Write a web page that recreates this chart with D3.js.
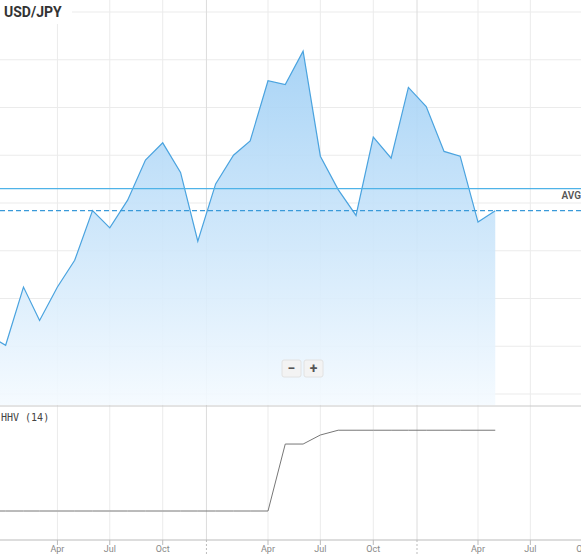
<!DOCTYPE html>
<html><head><meta charset="utf-8">
<script src="https://cdn.jsdelivr.net/npm/d3@7"></script>
<style>body{margin:0;background:#fff;overflow:hidden}</style>
</head><body>
<script>
// monthly USD/JPY closes, Dec 2022 .. May 2025
const months = ["2022-12","2023-01","2023-02","2023-03","2023-04","2023-05","2023-06","2023-07","2023-08","2023-09","2023-10","2023-11","2023-12",
  "2024-01","2024-02","2024-03","2024-04","2024-05","2024-06","2024-07","2024-08","2024-09","2024-10","2024-11","2024-12",
  "2025-01","2025-02","2025-03","2025-04","2025-05"];
const closes = [131.2,130.1,136.2,132.7,136.2,139.0,144.2,142.4,145.3,149.5,151.3,148.2,141.0,
  147.0,150.0,151.5,157.8,157.4,160.9,149.9,146.4,143.7,151.9,149.7,157.1,
  155.1,150.4,149.9,143.0,144.2];
const hhv = [151.5,151.5,151.5,151.5,151.5,151.5,151.5,151.5,151.5,151.5,151.5,151.5,151.5,
  151.5,151.5,151.5,151.5,157.8,157.8,158.65,159.1,159.1,159.1,159.1,159.1,
  159.1,159.1,159.1,159.1,159.1];
const avgLevel = 146.5;
const lastLevel = 144.2;
const monthTicks = ["2023-04","2023-07","2023-10","2024-04","2024-07","2024-10","2025-04","2025-07","2025-10"];
const yearTicks = [["2023-12-16","2024"],["2024-12-16","2025"]];

const W = 581, H = 557;
const parse = d3.utcParse("%Y-%m"), parseD = d3.utcParse("%Y-%m-%d");
const data = months.map((m, i) => ({date: parse(m), v: closes[i], h: hhv[i]}));

const x = d3.scaleUtc()
    .domain([parse("2024-04"), parse("2025-04")])
    .range([268, 478]);
const y = d3.scaleLinear().domain([125, 165]).range([394, 12]);
const y2 = d3.scaleLinear().domain([148, 162]).range([548.2, 399.4]);

const svg = d3.select("body").append("svg")
    .attr("width", W).attr("height", H)
    .style("font-family", "Roboto, sans-serif");

const defs = svg.append("defs");
const grad = defs.append("linearGradient").attr("id", "fill").attr("x1", 0).attr("x2", 0).attr("y1", 0).attr("y2", 1);
grad.append("stop").attr("offset", "0%").attr("stop-color", "#9fcff5");
grad.append("stop").attr("offset", "100%").attr("stop-color", "#f4faff");

// grid
const grid = svg.append("g");
grid.selectAll(".h").data(d3.range(125, 166, 5)).join("line")
    .attr("x1", 0).attr("x2", W).attr("y1", d => y(d)).attr("y2", d => y(d))
    .attr("stroke", "#ebebeb");
const allTicks = monthTicks.map(parse);
grid.selectAll(".v").data(allTicks).join("line")
    .attr("x1", d => x(d)).attr("x2", d => x(d)).attr("y1", 0).attr("y2", 540)
    .attr("stroke", "#ebebeb");
grid.selectAll(".yr").data(yearTicks).join("line")
    .attr("x1", d => x(parseD(d[0]))).attr("x2", d => x(parseD(d[0]))).attr("y1", 0).attr("y2", 540)
    .attr("stroke", "#dcdcdc");

// area + line
const area = d3.area().x(d => x(d.date)).y0(405).y1(d => y(d.v));
svg.append("path").datum(data).attr("d", area).attr("fill", "url(#fill)").attr("opacity", 0.9);
svg.append("path").datum(data).attr("d", d3.line().x(d => x(d.date)).y(d => y(d.v)))
    .attr("fill", "none").attr("stroke", "#4aa3df").attr("stroke-width", 1.2);

// levels
svg.append("line").attr("x1", 0).attr("x2", W).attr("y1", y(avgLevel)).attr("y2", y(avgLevel))
    .attr("stroke", "#4fb3e8").attr("stroke-width", 1.2);
svg.append("line").attr("x1", 0).attr("x2", W).attr("y1", y(lastLevel)).attr("y2", y(lastLevel))
    .attr("stroke", "#3a9ad9").attr("stroke-width", 1.3).attr("stroke-dasharray", "5,3");
svg.append("text").attr("x", 581).attr("y", y(avgLevel) + 10).attr("text-anchor", "end")
    .attr("font-size", 10).attr("font-weight", 600).attr("fill", "#555").text("AVG");

// title
svg.append("rect").attr("x", 0).attr("y", 0).attr("width", 72).attr("height", 24).attr("fill", "#fff");
svg.append("text").attr("x", 4).attr("y", 17).attr("font-size", 14).attr("font-weight", 700)
    .attr("fill", "#333").text("USD/JPY");

// zoom buttons
const zb = svg.append("g").attr("transform", "translate(282,360)");
[["−", 0], ["+", 22]].forEach(([t, dx]) => {
  zb.append("rect").attr("x", dx).attr("y", 0).attr("width", 19).attr("height", 17).attr("rx", 2)
    .attr("fill", "#f3f3f3").attr("stroke", "#e2e2e2");
  zb.append("text").attr("x", dx + 9.5).attr("y", 13).attr("text-anchor", "middle")
    .attr("font-size", 14).attr("font-weight", 700).attr("fill", "#555").text(t);
});

// panel separator
svg.append("line").attr("x1", 0).attr("x2", W).attr("y1", 406).attr("y2", 406).attr("stroke", "#c8c8c8");
svg.append("rect").attr("x", 0).attr("y", 411).attr("width", 50).attr("height", 13).attr("fill", "#fff");
svg.append("text").attr("x", 1).attr("y", 421).attr("font-size", 10).attr("fill", "#444")
    .attr("font-family", "DejaVu Sans Mono, monospace").text("HHV (14)");

// HHV line
svg.append("path").datum(data).attr("d", d3.line().x(d => x(d.date)).y(d => y2(d.h)))
    .attr("fill", "none").attr("stroke", "#777").attr("stroke-width", 1);

// x axis
const ax = svg.append("g").attr("transform", "translate(0,540)");
ax.append("line").attr("x1", 0).attr("x2", W).attr("stroke", "#bbb");
ax.selectAll(".t").data(allTicks).join("line")
    .attr("x1", d => x(d)).attr("x2", d => x(d)).attr("y1", 0).attr("y2", 5).attr("stroke", "#bbb");
ax.selectAll(".l").data(allTicks).join("text")
    .attr("x", d => x(d)).attr("y", 12).attr("text-anchor", "middle")
    .attr("font-size", 9).attr("fill", "#888").text(d => d3.utcFormat("%b")(d));
ax.selectAll(".yt").data(yearTicks).join("line")
    .attr("x1", d => x(parseD(d[0]))).attr("x2", d => x(parseD(d[0]))).attr("y1", 0).attr("y2", 14)
    .attr("stroke", "#bbb").attr("stroke-dasharray", "2,2");
ax.selectAll(".yl").data(yearTicks).join("text")
    .attr("x", d => x(parseD(d[0])) + 2).attr("y", 24).attr("text-anchor", "middle")
    .attr("font-size", 9).attr("fill", "#888").text(d => d[1]);
</script>
</body></html>
